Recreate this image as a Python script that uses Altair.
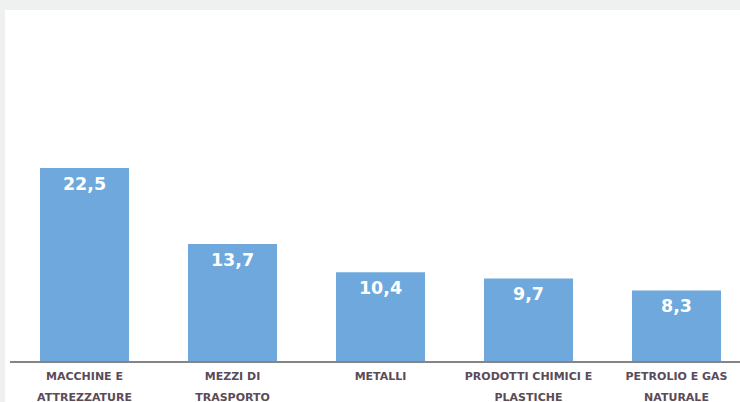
import altair as alt
import pandas as pd

categories = [
    "MACCHINE E\nATTREZZATURE",
    "MEZZI DI\nTRASPORTO",
    "METALLI",
    "PRODOTTI CHIMICI E\nPLASTICHE",
    "PETROLIO E GAS\nNATURALE",
]
values = [22.5, 13.7, 10.4, 9.7, 8.3]
value_labels = ["22,5", "13,7", "10,4", "9,7", "8,3"]

df = pd.DataFrame({"cat": categories, "val": values, "lab": value_labels})

x = alt.X(
    "cat:N",
    sort=None,
    axis=None,
    scale=alt.Scale(paddingInner=0.3986, paddingOuter=0.1824, align=0.648),
)
yscale = alt.Scale(domain=[-4.64, 40.835], nice=False, zero=False)

base = alt.Chart(df)

bars = base.mark_bar(color="#6fa8dc").encode(
    x=x,
    y=alt.Y("val:Q", axis=None, scale=yscale),
    y2=alt.datum(0),
)

baseline = base.mark_rule(color="#858585", strokeWidth=1.8).encode(
    y=alt.datum(0),
    x=alt.value(5),
    x2=alt.value(735),
)

val_text = base.mark_text(
    color="white",
    font="DejaVu Sans",
    fontWeight="bold",
    fontSize=17.5,
    baseline="alphabetic",
    dy=22,
).encode(x=x, y=alt.Y("val:Q"), text="lab:N")

cat_text = base.mark_text(
    color="#5b4b57",
    font="DejaVu Sans",
    fontWeight="bold",
    fontSize=11,
    baseline="top",
    dy=9,
    lineBreak="\n",
    lineHeight=21,
).encode(x=x, y=alt.datum(0), text="cat:N")

chart = (
    alt.layer(bars, baseline, val_text, cat_text)
    .properties(
        width=735,
        height=392,
        padding={"left": 5, "top": 10, "right": 0, "bottom": 0},
        autosize=alt.AutoSizeParams(type="none"),
        background="#eff1f0",
    )
    .configure_view(fill="white", strokeWidth=0)
)

chart.save("out.html", embed_options={"renderer": "svg", "actions": False})
